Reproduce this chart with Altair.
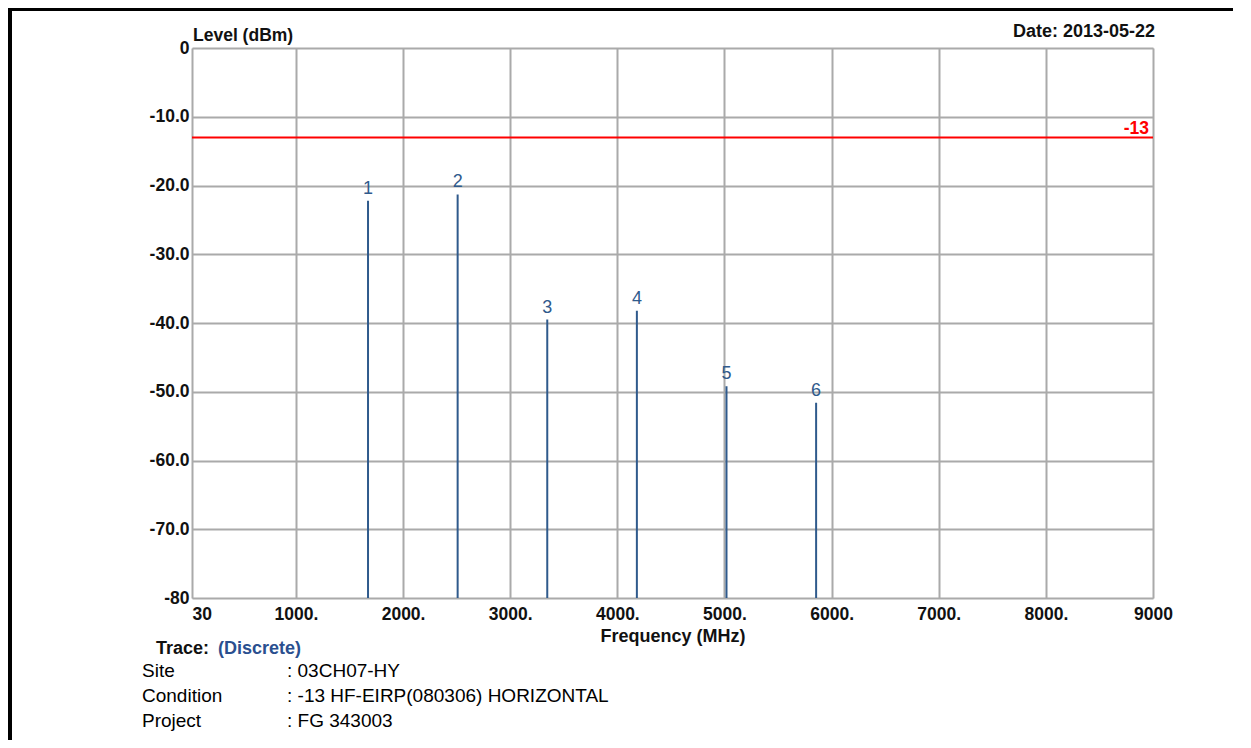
import altair as alt
import pandas as pd

# ---- data ----
freqs = [1673.0, 2509.5, 3346.0, 4182.5, 5019.0, 5855.5]
levels = [-22.2, -21.3, -39.5, -38.2, -49.2, -51.6]
markers = ["1", "2", "3", "4", "5", "6"]
x_ticks = [30, 1000, 2000, 3000, 4000, 5000, 6000, 7000, 8000, 9000]
y_ticks = [0, -10, -20, -30, -40, -50, -60, -70, -80]
limit_value = [-13]
limit_text = ["-13"]
y_title = "Level (dBm)"
x_title = "Frequency (MHz)"
date_text = "Date: 2013-05-22"
trace_label = "Trace:"
trace_value = "(Discrete)"
info_labels = ["Site", "Condition", "Project"]
info_values = [": 03CH07-HY", ": -13 HF-EIRP(080306) HORIZONTAL", ": FG 343003"]

FONT = "Liberation Sans"
STEM = "#2f5a8c"
W, H = 961, 550

df = pd.DataFrame({"freq": freqs, "level": levels, "marker": markers, "floor": [-80] * len(freqs)})
lim = pd.DataFrame({"limit": limit_value, "txt": limit_text})

xscale = alt.Scale(domain=[30, 9000], nice=False, zero=False)
yscale = alt.Scale(domain=[-80, 0], nice=False, zero=False)

xaxis = alt.Axis(
    values=x_ticks,
    labelExpr="datum.value == 30 || datum.value == 9000 ? format(datum.value, 'd') : format(datum.value, 'd') + '.'",
    labelAlign={"condition": {"test": "datum.value == 30", "value": "left"}, "value": "center"},
    labelFlush=False, labelOverlap=False, labelPadding=7, labelFontSize=17.5,
    labelFontWeight="bold", labelFont=FONT, labelColor="#111111",
    ticks=False, domain=False, grid=True, gridColor="#aaaaaa", gridWidth=2,
    title=x_title, titleFont=FONT, titleFontSize=18, titleFontWeight="bold",
    titleColor="#111111", titlePadding=5,
)
yaxis = alt.Axis(
    values=y_ticks,
    labelExpr="datum.value == 0 ? '0' : datum.value == -80 ? '-80' : '-' + format(-datum.value, '.1f')",
    labelFlush=False, labelOverlap=False, labelPadding=3, labelFontSize=17.5,
    labelFontWeight="bold", labelFont=FONT, labelColor="#111111",
    ticks=False, domain=False, grid=True, gridColor="#aaaaaa", gridWidth=2,
    title=None,
)

base = alt.Chart(df)

stems = base.mark_rule(color=STEM, strokeWidth=2).encode(
    x=alt.X("freq:Q", scale=xscale, axis=xaxis),
    y=alt.Y("level:Q", scale=yscale, axis=yaxis),
    y2="floor:Q",
)

nums = base.mark_text(font=FONT, fontSize=18, color=STEM, baseline="alphabetic", dy=-7).encode(
    x=alt.X("freq:Q", scale=xscale),
    y=alt.Y("level:Q", scale=yscale),
    text="marker:N",
)

limit_rule = alt.Chart(lim).mark_rule(color="#ff0000", strokeWidth=2).encode(
    y=alt.Y("limit:Q", scale=yscale)
)
limit_label = alt.Chart(lim).mark_text(
    font=FONT, fontSize=17.5, fontWeight="bold", color="#ff0000", align="right", baseline="alphabetic", dy=-3
).encode(
    y=alt.Y("limit:Q", scale=yscale), x=alt.value(W - 4), text="txt:N"
)


def label(text, px, py, size=17, weight="bold", color="#111111", align="left"):
    return alt.Chart(pd.DataFrame({"t": [text]})).mark_text(
        font=FONT, fontSize=size, fontWeight=weight, color=color, align=align, baseline="middle"
    ).encode(x=alt.value(px), y=alt.value(py), text="t:N")


texts = [
    label(y_title, 1, -12, size=17.5),
    label(date_text, W + 2, -16, size=18, align="right"),
    label(trace_label, -36, 601, size=18),
    label(trace_value, 26, 601, size=18, color="#2a4f8f"),
]
for i, (lab, val) in enumerate(zip(info_labels, info_values)):
    texts.append(label(lab, -50, 623 + 25 * i, size=19, weight="normal", color="#000000"))
    texts.append(label(val, 95, 623 + 25 * i, size=19, weight="normal", color="#000000"))

frame_df = pd.DataFrame({"k": [0]})
frame_left = alt.Chart(frame_df).mark_rule(color="#000000", strokeWidth=4).encode(
    x=alt.value(-182), y=alt.value(-40), y2=alt.value(700)
)
frame_top = alt.Chart(frame_df).mark_rule(color="#000000", strokeWidth=3).encode(
    y=alt.value(-38.5), x=alt.value(-184), x2=alt.value(1060)
)

chart = alt.layer(
    stems, limit_rule, nums, limit_label, *texts, frame_left, frame_top
).properties(
    width=W, height=H,
    autosize=alt.AutoSizeParams(type="none"),
    padding={"left": 184, "top": 40, "right": 80, "bottom": 142},
).configure_view(stroke="#333333", strokeWidth=2).configure(background="white")

chart.save("out.html", embed_options={"renderer": "svg", "actions": False})
